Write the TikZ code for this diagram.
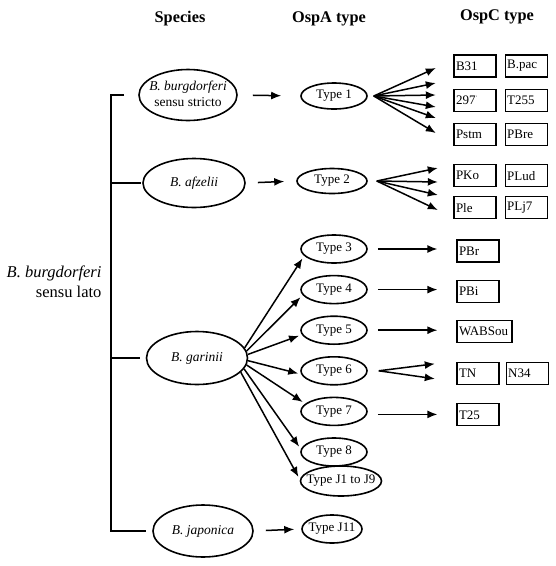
\documentclass[tikz,border=0pt]{standalone}
\usepackage{fontspec}
\setmainfont{Liberation Serif}
\usetikzlibrary{positioning,arrows.meta,shapes.geometric}
\tikzstyle{sbox}=[ellipse, draw=black, line width=1.6pt, minimum width=100pt,
                  minimum height=51pt, inner sep=0pt,
                  font=\fontsize{13.5}{16}\selectfont\itshape]
\tikzstyle{tbox}=[ellipse, draw=black, line width=1.6pt, minimum width=66pt,
                  minimum height=28pt, inner sep=0pt, font=\fontsize{13}{15}\selectfont]
\tikzstyle{cbox}=[rectangle, draw=black, line width=1.2pt, text width=38pt, align=left,
                  minimum height=22pt, inner sep=2pt, font=\fontsize{13}{15}\selectfont]
\tikzstyle{hbox}=[font=\fontsize{16.3}{19}\selectfont\bfseries]
\tikzstyle{pline}=[-, line width=1.7pt]
\tikzstyle{parr}=[-{Latex[length=10pt,width=8pt]}, line width=1.5pt]
\newcommand{\nobox}[1]{\makebox[0pt]{#1}}

\begin{document}
\begin{tikzpicture}[x=1pt,y=-1pt]
\useasboundingbox (0,0) rectangle (556,566);

% column heads
\node (SPEC) [hbox] at (180,19) {Species};
\node (OSPA) [hbox] at (329,19) {OspA type};
\node (OSPC) [hbox] at (497,17) {OspC type};

% species
\node (BBSL) [anchor=east, align=right, font=\fontsize{16.5}{20}\selectfont] at (105,282)
  {\textit{B. burgdorferi}\\sensu lato};
\node (BBSS) [sbox, minimum width=98pt] at (188,95)
  {\nobox{\begin{tabular}{@{}c@{}}B. burgdorferi\\\upshape sensu stricto\end{tabular}}};
\node (AFZ) [sbox, minimum width=102pt, minimum height=49pt] at (194,183) {B. afzelii};
\node (GAR) [sbox, minimum width=101pt, minimum height=53pt] at (197,358) {B. garinii};
\node (JAP) [sbox, minimum height=52pt] at (203,531) {B. japonica};

\coordinate (BTOP) at (111,95);
\coordinate (BBOT) at (111,531);
 \draw[pline] ([xshift=-14pt]BBSS.west) -- (BTOP) -- (BBOT) -- ([xshift=-6pt]JAP.west);
 \draw[pline] (AFZ.west -| BTOP) -- ([xshift=-1pt]AFZ.west);
 \draw[pline] (GAR.west -| BTOP) -- ([xshift=-6pt]GAR.west);

% OspA types
\node (T1) [tbox, minimum height=26pt] at (334,96) {Type 1};
\node (T2) [tbox, minimum width=70pt, minimum height=25pt] at (332,181) {Type 2};
\node (T3) [tbox] at (334,249) {Type 3};
\node (T4) [tbox, below=11pt of T3] {Type 4};
\node (T5) [tbox, below=11pt of T4] {Type 5};
\node (T6) [tbox, below=11pt of T5] {Type 6};
\node (T7) [tbox, below=11pt of T6] {Type 7};
\node (T8) [tbox, below=11pt of T7] {Type 8};
\node (TJ) [tbox, minimum width=81pt, minimum height=30pt] at (341,481) {\nobox{Type J1 to J9}};
\node (TJ11) [tbox, minimum width=60pt] at (332,529) {\nobox{Type J11}};

 \draw[parr, shorten <=15pt, shorten >=19pt] (BBSS.east) -- (T1.west);
 \draw[parr, shorten <=12pt, shorten >=12pt] (AFZ.east) -- (T2.west);
 \draw[parr, shorten <=12pt, shorten >=7pt] (JAP.east) -- (TJ11.west);
 \foreach \s/\t/\e in {12/T3/193, 8/T4/190, 4/T5/188, 357/T6/186, 352/T7/165, 347/T8/175, 342/TJ/178}
   \draw[parr, shorten >=3pt] (GAR.\s) -- (\t.\e);

% OspC types
\node (B31) [cbox] at (475,66) {B31};
\node (BPAC) [cbox, right=8pt of B31] {B.pac};
\node (N297) [cbox, below=11pt of B31] {297\raisebox{5pt}{\tiny '}};
\node (T255) [cbox, right=8pt of N297] {T255};
\node (PSTM) [cbox, below=11pt of N297] {Pstm};
\node (PBRE) [cbox, right=8pt of PSTM] {PBre};
\node (PKO) [cbox, below=18pt of PSTM] {PKo};
\node (PLUD) [cbox, right=8pt of PKO] {PLud};
\node (PLE) [cbox, below=9pt of PKO] {Ple};
\node (PLJ7) [cbox, right=8pt of PLE] {PLj7};

\node (PBR) [cbox] at (478,251) {PBr};
\node (PBI) [cbox, below=17pt of PBR] {PBi};
\node (WAB) [cbox, text width=51pt, below=17pt of PBI.south west, anchor=north west] {WABSou};
\node (TN) [cbox, below=19pt of WAB.south west, anchor=north west] {TN};
\node (N34) [cbox, right=6pt of TN] {N34};
\node (T25) [cbox, below=18pt of TN] {T25};

 \foreach \dy [count=\i] in {-28,-13,-1,11,22,37} {
   \path (T1.east) ++(68,\dy) coordinate (CA\i);
   \draw[parr] ([xshift=6pt]T1.east) -- (CA\i);
 }
 \foreach \dy [count=\i] in {-13,1,14,29} {
   \path (T2.east) ++(70,\dy) coordinate (CB\i);
   \draw[parr] ([xshift=9pt]T2.east) -- (CB\i);
 }
 \path (T6.east) ++(67,-7) coordinate (C6a);
 \path (T6.east) ++(67,8) coordinate (C6b);
 \draw[parr] ([xshift=11pt]T6.east) -- (C6a);
 \draw[parr] ([xshift=11pt]T6.east) -- (C6b);
 \draw[parr, shorten <=10pt, shorten >=19pt] (T3.east) -- (T3.east -| PBR.west);
 \draw[parr, shorten <=10pt, shorten >=19pt] (T4.east) -- (T4.east -| PBI.west);
 \draw[parr, shorten <=10pt, shorten >=19pt] (T5.east) -- (T5.east -| WAB.west);
 \draw[parr, shorten <=10pt, shorten >=19pt] ([yshift=-3pt]T7.east) -- ([yshift=-3pt]T7.east -| T25.west);

\end{tikzpicture}
\end{document}
